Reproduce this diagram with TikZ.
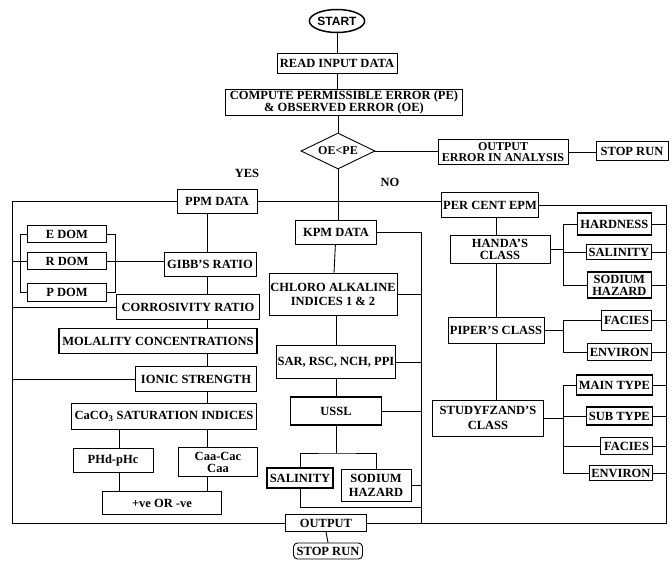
\documentclass[tikz,border=0pt]{standalone}
\usepackage{fontspec}
\setmainfont{Liberation Serif}
\setsansfont{Liberation Sans}
\usetikzlibrary{shapes.geometric,shapes.misc}
\begin{document}
\begin{tikzpicture}[x=1pt,y=-1pt,
  bx/.style={draw, line width=0.9pt, font=\bfseries\fontsize{12.5}{12}\selectfont, align=center, inner sep=1pt},
  hv/.style={bx, line width=1.3pt},
  lbl/.style={font=\bfseries\fontsize{12.5}{12}\selectfont, inner sep=0pt},
  ln/.style={line width=0.9pt}]
\useasboundingbox (0,0) rectangle (672,560);
% frame coordinates
\coordinate (lft) at (12,0);
\coordinate (rgt) at (666,0);
\coordinate (mr) at (421,0);
\coordinate (sp) at (207,0);
\coordinate (ph) at (119,0);
\coordinate (rs) at (496,0);
\coordinate (b1) at (563,0);
\coordinate (ub) at (336,453);
\coordinate (sb) at (421,507);
% top
\node[draw, ellipse, line width=1.5pt, font=\sffamily\bfseries\fontsize{12}{12}\selectfont, inner sep=0pt, minimum width=52pt, minimum height=23pt] (start) at (337,21) {START};
\node[bx, minimum width=120pt, minimum height=20pt] (read) at (337,63) {READ INPUT DATA};
\node[bx, minimum width=237pt, minimum height=26pt] (comp) at (344,102) {COMPUTE PERMISSIBLE ERROR (PE)\\\& OBSERVED ERROR (OE)};
\node[draw, diamond, line width=0.9pt, aspect=2, inner sep=0pt, minimum width=74pt, minimum height=36pt, font=\bfseries\fontsize{12}{12}\selectfont] (dia) at (338,151) {OE<PE};
\node[bx, minimum width=130pt, minimum height=25pt, inner ysep=0.5pt, font=\bfseries\fontsize{12}{11.5}\selectfont] (outp) at (503,152) {OUTPUT\\ERROR IN ANALYSIS};
\node[bx, minimum width=72pt, minimum height=19pt] (stop1) at (632,151) {STOP RUN};
\node[lbl] (yes) at (247,173) {YES};
\node[lbl] (no) at (390,182) {NO};
% left column
\node[bx, minimum width=80pt, minimum height=24pt] (ppm) at (217,201) {PPM DATA};
\node[bx, minimum width=79pt, minimum height=17pt] (edom) at (67,234) {E DOM};
\node[bx, minimum width=79pt, minimum height=17pt] (rdom) at (67,261) {R DOM};
\node[bx, minimum width=79pt, minimum height=18pt] (pdom) at (67,292) {P DOM};
\node[bx, minimum width=92pt, minimum height=24pt] (gibb) at (210,264) {GIBB'S RATIO};
\node[hv, minimum width=143pt, minimum height=25pt] (corr) at (188,307) {CORROSIVITY RATIO};
\node[hv, minimum width=198pt, minimum height=25pt] (mol) at (158,341) {MOLALITY CONCENTRATIONS};
\node[hv, minimum width=121pt, minimum height=25pt] (ionic) at (196,379) {IONIC STRENGTH};
\node[bx, minimum width=185pt, minimum height=26pt] (caco) at (164,416) {CaCO\textsubscript{3} SATURATION INDICES};
\node[bx, minimum width=80pt, minimum height=24pt] (phd) at (113,460) {PHd-pHc};
\node[bx, minimum width=79pt, minimum height=29pt] (caa) at (218,462) {Caa-Cac\\Caa};
\node[bx, minimum width=119pt, minimum height=23pt] (pm) at (162,503) {+ve OR -ve};
% middle column
\node[bx, minimum width=81pt, minimum height=24pt] (kpm) at (336,232) {KPM DATA};
\node[bx, minimum width=128pt, minimum height=42pt, font=\bfseries\fontsize{12.5}{14}\selectfont] (chl) at (333,294) {CHLORO ALKALINE\\INDICES 1 \& 2};
\node[bx, minimum width=119pt, minimum height=33pt] (sar) at (336,362) {SAR, RSC, NCH, PPI};
\node[hv, minimum width=91pt, minimum height=28pt] (ussl) at (336,411) {USSL};
\node[hv, minimum width=66pt, minimum height=20pt] (salm) at (300,478) {SALINITY};
\node[bx, minimum width=70pt, minimum height=32pt, font=\bfseries\fontsize{12.5}{14}\selectfont] (sodm) at (376,485) {SODIUM\\HAZARD};
\node[bx, minimum width=81pt, minimum height=17pt] (out) at (326,523) {OUTPUT};
\node[draw, rectangle, rounded corners=4pt, line width=0.9pt, inner sep=1pt, minimum width=69pt, minimum height=16pt, font=\bfseries\fontsize{12.5}{12}\selectfont] (stop2) at (328,551) {STOP RUN};
% right column
\node[bx, minimum width=97pt, minimum height=25pt] (pce) at (490,205) {PER CENT EPM};
\node[bx, minimum width=100pt, minimum height=28pt] (handa) at (500,249) {HANDA'S\\CLASS};
\node[bx, minimum width=96pt, minimum height=26pt] (piper) at (496,330) {PIPER'S CLASS};
\node[bx, minimum width=111pt, minimum height=36pt, font=\bfseries\fontsize{12.5}{15}\selectfont] (study) at (488,418) {STUDYFZAND'S\\CLASS};
\node[hv, anchor=east, minimum width=74pt, minimum height=22pt] (hard) at (652,224) {HARDNESS};
\node[hv, anchor=east, minimum width=65pt, minimum height=15pt] (salr) at (652,252) {SALINITY};
\node[hv, anchor=east, minimum width=64pt, minimum height=26pt] (sodr) at (652,285) {SODIUM\\HAZARD};
\node[bx, anchor=east, minimum width=50pt, minimum height=20pt] (fac1) at (652,320) {FACIES};
\node[hv, anchor=east, minimum width=64pt, minimum height=17pt] (env1) at (652,352) {ENVIRON};
\node[hv, anchor=east, minimum width=76pt, minimum height=20pt] (main) at (653,385) {MAIN TYPE};
\node[hv, anchor=east, minimum width=66pt, minimum height=18pt] (sub) at (653,416) {SUB TYPE};
\node[bx, anchor=east, minimum width=52pt, minimum height=17pt] (fac2) at (653,446) {FACIES};
\node[hv, anchor=east, minimum width=63pt, minimum height=15pt] (env2) at (653,473) {ENVIRON};
% connectors: top
\draw[ln] (start) -- (read);
\draw[ln] (read.south) -- (read.south |- comp.north);
\draw[ln] (comp.south -| dia.north) -- (dia.north);
\draw[ln] (dia.east) -- (dia.east -| outp.west);
\draw[ln] (outp.east) -- (outp.east -| stop1.west);
\draw[ln] (dia.south) -- (dia.south |- kpm.north);
\draw[ln] (ppm.east) -- (ppm.east -| pce.west);
% frame
\draw[ln] (ppm.west) -- (ppm.west -| lft) -- (lft |- out.west) -- (out.west);
\draw[ln] (pce.east) -- (pce.east -| rgt) -- (rgt |- out.east) -- (out.east);
% left column
\draw[ln] (edom.west) -- ++(-7,0) |- (pdom.west);
\draw[ln] (edom.east) -- ++(8,0) |- (pdom.east);
\draw[ln] (rdom.east) -- (rdom.east -| gibb.west);
\draw[ln] (rdom.west) -- (rdom.west -| lft);
\draw[ln] (corr.west) -- (corr.west -| lft);
\draw[ln] (ionic.west) -- (ionic.west -| lft);
\draw[ln] (ppm.south -| sp) -- (gibb.north -| sp);
\draw[ln] (gibb.south -| sp) -- (corr.north -| sp);
\draw[ln] (corr.south -| sp) -- (mol.north -| sp);
\draw[ln] (mol.south -| sp) -- (ionic.north -| sp);
\draw[ln] (ionic.south -| sp) -- (caco.north -| sp);
\draw[ln] (caco.south -| ph) -- (phd.north -| ph);
\draw[ln] (phd.south -| ph) -- (pm.north -| ph);
\draw[ln] (caco.south -| sp) -- (caa.north -| sp);
\draw[ln] (caa.south -| sp) -- (pm.north -| sp);
% middle column
\draw[ln] (kpm) -- (chl);
\draw[ln] (chl.south -| kpm.south) -- (sar.north -| kpm.south);
\draw[ln] (sar) -- (ussl);
\draw[ln] (kpm.east) -- (kpm.east -| mr) -- (mr |- out.east);
\draw[ln] (chl.east) -- (chl.east -| mr);
\draw[ln] (sar.east) -- (sar.east -| mr);
\draw[ln] (ussl.east) -- (ussl.east -| mr);
\draw[ln] (sodm.east) -- (sodm.east -| mr);
\draw[ln] (ussl.south) -- (ub);
\draw[ln] (salm.north) |- (ub) -| (sodm.north);
\draw[ln] (salm.south) |- (sb);
\draw[ln] (out.south) -- (stop2.north);
% right column
\draw[ln] (pce.south -| rs) -- (handa.north -| rs);
\draw[ln] (handa.south -| rs) -- (piper.north -| rs);
\draw[ln] (piper.south -| rs) -- (study.north -| rs);
\draw[ln] (handa.east) -- (handa.east -| b1);
\draw[ln] (hard.west) -| (b1 |- sodr.west) -- (sodr.west);
\draw[ln] (salr.west) -- (salr.west -| b1);
\draw[ln] (piper.east) -- (piper.east -| b1);
\draw[ln] (fac1.west) -| (b1 |- env1.west) -- (env1.west);
\draw[ln] (study.east) -- (study.east -| b1);
\draw[ln] (main.west) -| (b1 |- env2.west) -- (env2.west);
\draw[ln] (sub.west) -- (sub.west -| b1);
\draw[ln] (fac2.west) -- (fac2.west -| b1);
\foreach \n in {hard,salr,sodr,fac1,env1,main,sub,fac2,env2}
  \draw[ln] (\n.east) -- (\n.east -| rgt);
\end{tikzpicture}
\end{document}
